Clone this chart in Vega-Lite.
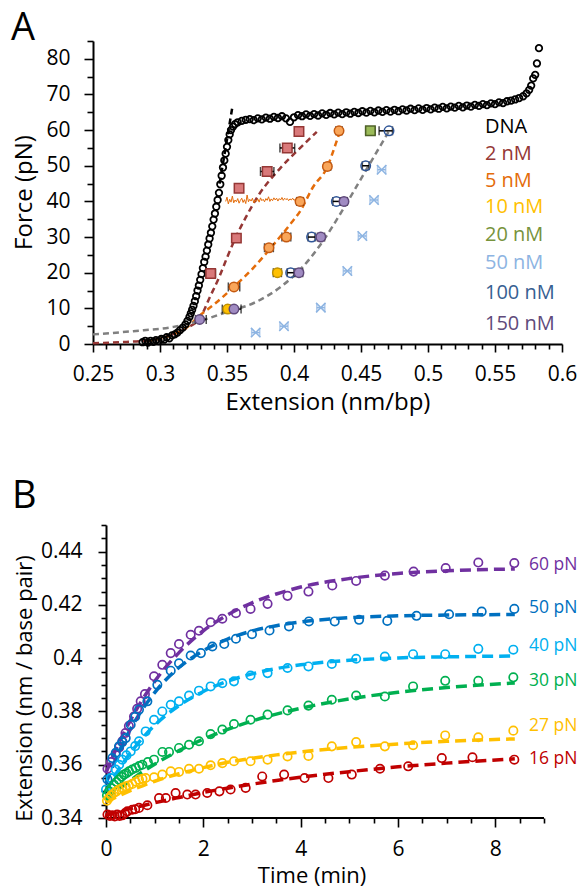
{
"$schema":"https://vega.github.io/schema/vega-lite/v6.json",
"padding":{"left":11,"top":10,"right":0,"bottom":0},
"spacing":62,
"config":{
 "view":{"stroke":null},
 "font":"Open Sans",
 "axis":{"domainColor":"black","domainWidth":2,"tickColor":"black","tickWidth":1.6,"labelColor":"black","labelFont":"Open Sans","labelFontSize":21,"titleFont":"Open Sans","titleFontSize":22,"titleFontWeight":"normal","titleColor":"black","grid":false,"labelOverlap":false,"labelBound":false,"labelFlush":false},
 "title":{"font":"Open Sans","fontSize":38,"fontWeight":"normal","anchor":"start","frame":"bounds","color":"black"}
},
"datasets":{
 "dna":[
  {"x":0.287,"F":0.5},{"x":0.289,"F":0.9},{"x":0.291,"F":0.4},{"x":0.293,"F":0.9},{"x":0.295,"F":0.6},{"x":0.297,"F":1.1},{"x":0.299,"F":0.8},{"x":0.301,"F":1.4},{"x":0.303,"F":1.2},{"x":0.305,"F":1.9},{"x":0.307,"F":1.6},{"x":0.309,"F":2.4},{"x":0.311,"F":2.7},{"x":0.313,"F":3.2},{"x":0.315,"F":3.9},{"x":0.317,"F":4.6},{"x":0.319,"F":5.5},{"x":0.3205,"F":6.5},{"x":0.322,"F":7.6},{"x":0.323,"F":8.6},{"x":0.324,"F":9.6},{"x":0.325,"F":10.7},{"x":0.326,"F":12.0},{"x":0.327,"F":13.4},{"x":0.328,"F":15.0},{"x":0.329,"F":16.4},{"x":0.330,"F":18.0},{"x":0.331,"F":19.6},{"x":0.332,"F":21.3},{"x":0.333,"F":23.0},{"x":0.334,"F":24.5},{"x":0.335,"F":26.2},{"x":0.336,"F":27.9},{"x":0.337,"F":29.6},{"x":0.338,"F":31.2},{"x":0.339,"F":33.0},{"x":0.340,"F":34.9},{"x":0.341,"F":36.6},{"x":0.342,"F":38.5},{"x":0.343,"F":40.4},{"x":0.344,"F":42.4},{"x":0.345,"F":44.8},{"x":0.346,"F":47.2},{"x":0.347,"F":49.5},{"x":0.348,"F":51.5},{"x":0.349,"F":53.4},{"x":0.350,"F":55.3},{"x":0.351,"F":57.2},{"x":0.352,"F":58.8},{"x":0.353,"F":60.0},{"x":0.3545,"F":61.0},{"x":0.356,"F":61.7},{"x":0.358,"F":62.2},
  {"x":0.361,"F":62.6},{"x":0.364,"F":62.9},{"x":0.367,"F":63.1},{"x":0.370,"F":62.8},{"x":0.373,"F":63.3},{"x":0.376,"F":63.0},{"x":0.379,"F":63.5},{"x":0.382,"F":63.2},{"x":0.385,"F":63.7},{"x":0.388,"F":63.4},{"x":0.391,"F":63.9},{"x":0.394,"F":63.3},{"x":0.397,"F":62.3},{"x":0.400,"F":63.6},{"x":0.403,"F":64.2},{"x":0.406,"F":63.9},{"x":0.409,"F":64.4},{"x":0.412,"F":64.0},{"x":0.415,"F":64.5},{"x":0.418,"F":64.1},{"x":0.421,"F":64.7},{"x":0.424,"F":64.3},{"x":0.427,"F":64.8},{"x":0.430,"F":64.4},{"x":0.433,"F":64.9},{"x":0.436,"F":64.5},{"x":0.439,"F":65.0},{"x":0.442,"F":64.6},{"x":0.445,"F":65.1},{"x":0.448,"F":64.8},{"x":0.451,"F":65.3},{"x":0.454,"F":64.9},{"x":0.457,"F":65.4},{"x":0.460,"F":65.0},{"x":0.463,"F":65.5},{"x":0.466,"F":65.1},{"x":0.469,"F":65.6},{"x":0.472,"F":65.2},{"x":0.475,"F":65.7},{"x":0.478,"F":65.3},{"x":0.481,"F":65.8},{"x":0.484,"F":65.5},{"x":0.487,"F":66.0},{"x":0.490,"F":65.6},{"x":0.493,"F":66.1},{"x":0.496,"F":65.7},{"x":0.499,"F":66.2},{"x":0.502,"F":65.8},{"x":0.505,"F":66.3},{"x":0.508,"F":66.0},{"x":0.511,"F":66.5},{"x":0.514,"F":66.1},{"x":0.517,"F":66.6},{"x":0.520,"F":66.3},{"x":0.523,"F":66.8},{"x":0.526,"F":66.4},{"x":0.529,"F":66.9},{"x":0.532,"F":66.6},{"x":0.535,"F":67.1},{"x":0.538,"F":66.8},{"x":0.541,"F":67.3},{"x":0.544,"F":67.0},{"x":0.547,"F":67.5},{"x":0.550,"F":67.3},{"x":0.553,"F":67.8},{"x":0.556,"F":67.6},{"x":0.559,"F":68.1},{"x":0.562,"F":68.3},{"x":0.565,"F":68.6},{"x":0.568,"F":69.0},{"x":0.571,"F":69.5},{"x":0.5735,"F":70.3},{"x":0.5755,"F":71.3},{"x":0.577,"F":72.5},{"x":0.5785,"F":74.5},{"x":0.580,"F":75.5},{"x":0.5813,"F":78.7},{"x":0.5828,"F":83.0}
 ],
 "trace":[
  {"x":0.349,"F":40.0},{"x":0.350,"F":41.2},{"x":0.351,"F":39.3},{"x":0.352,"F":40.6},{"x":0.353,"F":39.8},{"x":0.354,"F":41.5},{"x":0.355,"F":39.6},{"x":0.356,"F":40.4},{"x":0.357,"F":39.9},{"x":0.358,"F":40.8},{"x":0.359,"F":39.5},{"x":0.360,"F":40.3},{"x":0.361,"F":40.9},{"x":0.362,"F":39.7},{"x":0.363,"F":40.5},{"x":0.364,"F":39.4},{"x":0.365,"F":41.8},{"x":0.366,"F":39.9},{"x":0.367,"F":40.6},{"x":0.368,"F":40.1},{"x":0.369,"F":40.9},{"x":0.370,"F":39.6},{"x":0.371,"F":40.4},{"x":0.372,"F":40.0},{"x":0.373,"F":40.7},{"x":0.374,"F":39.8},{"x":0.375,"F":41.0},{"x":0.376,"F":40.2},{"x":0.377,"F":40.6},{"x":0.378,"F":39.9},{"x":0.379,"F":40.8},{"x":0.380,"F":40.3},{"x":0.381,"F":41.3},{"x":0.382,"F":40.0},{"x":0.383,"F":40.7},{"x":0.384,"F":40.2},{"x":0.385,"F":41.0},{"x":0.386,"F":40.4},{"x":0.387,"F":40.9},{"x":0.388,"F":40.1},{"x":0.389,"F":40.8},{"x":0.390,"F":40.4},{"x":0.391,"F":41.1},{"x":0.392,"F":40.3},{"x":0.393,"F":40.9},{"x":0.394,"F":40.5},{"x":0.395,"F":40.8},{"x":0.396,"F":40.2},{"x":0.397,"F":40.7},{"x":0.398,"F":40.4},{"x":0.399,"F":40.9},{"x":0.400,"F":40.3},{"x":0.401,"F":40.6},{"x":0.402,"F":40.2},{"x":0.403,"F":40.5}
 ],
 "fitA":[
  {"s":"2nM","x":0.25,"F":0.2},{"s":"2nM","x":0.27,"F":0.5},{"s":"2nM","x":0.29,"F":1.0},{"s":"2nM","x":0.30,"F":1.6},{"s":"2nM","x":0.31,"F":2.8},{"s":"2nM","x":0.32,"F":4.5},{"s":"2nM","x":0.33,"F":7.4},{"s":"2nM","x":0.337,"F":13},{"s":"2nM","x":0.344,"F":18.6},{"s":"2nM","x":0.35,"F":24.2},{"s":"2nM","x":0.3565,"F":29.9},{"s":"2nM","x":0.364,"F":35.5},{"s":"2nM","x":0.374,"F":42},{"s":"2nM","x":0.389,"F":49},{"s":"2nM","x":0.406,"F":55.5},{"s":"2nM","x":0.417,"F":59.5},
  {"s":"5nM","x":0.29,"F":0.8},{"s":"5nM","x":0.30,"F":1.5},{"s":"5nM","x":0.31,"F":2.7},{"s":"5nM","x":0.32,"F":4.6},{"s":"5nM","x":0.329,"F":7.8},{"s":"5nM","x":0.34,"F":11},{"s":"5nM","x":0.355,"F":16},{"s":"5nM","x":0.37,"F":21.5},{"s":"5nM","x":0.385,"F":28},{"s":"5nM","x":0.397,"F":33.5},{"s":"5nM","x":0.405,"F":37.5},{"s":"5nM","x":0.414,"F":43.9},{"s":"5nM","x":0.4249,"F":49.7},{"s":"5nM","x":0.431,"F":56},{"s":"5nM","x":0.4345,"F":60},
  {"s":"gray","x":0.25,"F":2.7},{"s":"gray","x":0.28,"F":3.6},{"s":"gray","x":0.31,"F":4.8},{"s":"gray","x":0.33,"F":6.5},{"s":"gray","x":0.35,"F":9},{"s":"gray","x":0.37,"F":11.5},{"s":"gray","x":0.39,"F":16},{"s":"gray","x":0.405,"F":21},{"s":"gray","x":0.42,"F":28},{"s":"gray","x":0.436,"F":37.4},{"s":"gray","x":0.4535,"F":48.6},{"s":"gray","x":0.471,"F":59.8},
  {"s":"wlc","x":0.3445,"F":45},{"s":"wlc","x":0.3538,"F":66}
 ],
 "mk":[
  {"s":"2 nM","x":0.3378,"F":19.8,"lo":0.3342,"hi":0.3414},
  {"s":"2 nM","x":0.357,"F":29.7,"lo":0.3545,"hi":0.3595},
  {"s":"2 nM","x":0.359,"F":43.7,"lo":0.357,"hi":0.361},
  {"s":"2 nM","x":0.380,"F":48.4,"lo":0.375,"hi":0.385},
  {"s":"2 nM","x":0.395,"F":55.0,"lo":0.3895,"hi":0.4005},
  {"s":"2 nM","x":0.4037,"F":59.6,"lo":0.4015,"hi":0.406},
  {"s":"5 nM","x":0.3552,"F":16.0,"lo":0.351,"hi":0.3595},
  {"s":"5 nM","x":0.3813,"F":27.0,"lo":0.378,"hi":0.3846},
  {"s":"5 nM","x":0.3943,"F":30.0,"lo":0.391,"hi":0.3976},
  {"s":"5 nM","x":0.4045,"F":40.0,"lo":0.402,"hi":0.407},
  {"s":"5 nM","x":0.4249,"F":49.8,"lo":0.4225,"hi":0.4273},
  {"s":"5 nM","x":0.4336,"F":59.8,"lo":0.4312,"hi":0.436},
  {"s":"10 nM","x":0.3505,"F":9.8,"lo":0.3465,"hi":0.3545},
  {"s":"10 nM","x":0.3876,"F":20.0,"lo":0.3846,"hi":0.3906},
  {"s":"20 nM","x":0.457,"F":59.8,"lo":0.4535,"hi":0.4605},
  {"s":"50 nM","x":0.3714,"F":3.2,"lo":0.3684,"hi":0.3744},
  {"s":"50 nM","x":0.3925,"F":5.0,"lo":0.3895,"hi":0.3955},
  {"s":"50 nM","x":0.420,"F":10.2,"lo":0.417,"hi":0.423},
  {"s":"50 nM","x":0.4398,"F":20.5,"lo":0.4368,"hi":0.4428},
  {"s":"50 nM","x":0.451,"F":30.3,"lo":0.448,"hi":0.454},
  {"s":"50 nM","x":0.4597,"F":40.4,"lo":0.4567,"hi":0.4627},
  {"s":"50 nM","x":0.4654,"F":48.9,"lo":0.4624,"hi":0.4684},
  {"s":"100 nM","x":0.3975,"F":20.0,"lo":0.395,"hi":0.400},
  {"s":"100 nM","x":0.4131,"F":30.0,"lo":0.4105,"hi":0.4157},
  {"s":"100 nM","x":0.4316,"F":40.0,"lo":0.429,"hi":0.4342},
  {"s":"100 nM","x":0.4535,"F":50.0,"lo":0.451,"hi":0.456},
  {"s":"100 nM","x":0.4709,"F":59.8,"lo":0.4635,"hi":0.4735},
  {"s":"150 nM","x":0.3296,"F":6.9,"lo":0.3265,"hi":0.3345},
  {"s":"150 nM","x":0.3552,"F":9.8,"lo":0.3525,"hi":0.3605},
  {"s":"150 nM","x":0.4037,"F":20.0,"lo":0.401,"hi":0.4065},
  {"s":"150 nM","x":0.420,"F":30.0,"lo":0.4175,"hi":0.4228},
  {"s":"150 nM","x":0.4373,"F":40.0,"lo":0.435,"hi":0.4398}
 ],
 "labA":[
  {"s":"DNA","x":0.5425,"F":60.8},{"s":"2 nM","x":0.5425,"F":53.3},{"s":"5 nM","x":0.5425,"F":45.8},{"s":"10 nM","x":0.5425,"F":38.4},{"s":"20 nM","x":0.5425,"F":30.5},{"s":"50 nM","x":0.5425,"F":22.6},{"s":"100 nM","x":0.5425,"F":14.4},{"s":"150 nM","x":0.5425,"F":5.6}
 ],
 "bpts":[
  {"s":"60 pN","t":0.03,"e":0.3585},{"s":"60 pN","t":0.1,"e":0.3610},{"s":"60 pN","t":0.2,"e":0.3638},{"s":"60 pN","t":0.27,"e":0.3665},{"s":"60 pN","t":0.335,"e":0.3688},{"s":"60 pN","t":0.40,"e":0.3719},{"s":"60 pN","t":0.47,"e":0.3745},{"s":"60 pN","t":0.575,"e":0.3781},{"s":"60 pN","t":0.64,"e":0.3810},{"s":"60 pN","t":0.713,"e":0.3838},{"s":"60 pN","t":0.80,"e":0.3865},{"s":"60 pN","t":0.987,"e":0.3932},{"s":"60 pN","t":1.157,"e":0.3975},{"s":"60 pN","t":1.33,"e":0.4019},{"s":"60 pN","t":1.50,"e":0.4053},{"s":"60 pN","t":1.74,"e":0.4088},{"s":"60 pN","t":1.91,"e":0.4103},{"s":"60 pN","t":2.15,"e":0.4135},{"s":"60 pN","t":2.39,"e":0.4148},{"s":"60 pN","t":2.67,"e":0.4169},{"s":"60 pN","t":2.97,"e":0.4185},{"s":"60 pN","t":3.32,"e":0.4204},{"s":"60 pN","t":3.73,"e":0.4234},{"s":"60 pN","t":4.16,"e":0.4250},{"s":"60 pN","t":4.65,"e":0.4273},{"s":"60 pN","t":5.14,"e":0.4290},{"s":"60 pN","t":5.73,"e":0.4310},{"s":"60 pN","t":6.32,"e":0.4325},{"s":"60 pN","t":6.98,"e":0.4338},{"s":"60 pN","t":7.65,"e":0.4359},{"s":"60 pN","t":8.39,"e":0.4357},
  {"s":"50 pN","t":0.03,"e":0.3545},{"s":"50 pN","t":0.13,"e":0.3625},{"s":"50 pN","t":0.2,"e":0.3645},{"s":"50 pN","t":0.267,"e":0.3669},{"s":"50 pN","t":0.335,"e":0.3685},{"s":"50 pN","t":0.405,"e":0.3700},{"s":"50 pN","t":0.507,"e":0.3750},{"s":"50 pN","t":0.6,"e":0.3780},{"s":"50 pN","t":0.678,"e":0.3807},{"s":"50 pN","t":0.85,"e":0.3838},{"s":"50 pN","t":1.055,"e":0.3900},{"s":"50 pN","t":1.33,"e":0.3953},{"s":"50 pN","t":1.50,"e":0.3981},{"s":"50 pN","t":1.74,"e":0.4010},{"s":"50 pN","t":1.95,"e":0.4019},{"s":"50 pN","t":2.185,"e":0.4044},{"s":"50 pN","t":2.43,"e":0.4053},{"s":"50 pN","t":2.67,"e":0.4073},{"s":"50 pN","t":3.0,"e":0.4090},{"s":"50 pN","t":3.36,"e":0.4104},{"s":"50 pN","t":3.76,"e":0.4119},{"s":"50 pN","t":4.17,"e":0.4138},{"s":"50 pN","t":4.7,"e":0.4138},{"s":"50 pN","t":5.2,"e":0.4144},{"s":"50 pN","t":5.78,"e":0.4140},{"s":"50 pN","t":6.38,"e":0.4159},{"s":"50 pN","t":7.05,"e":0.4165},{"s":"50 pN","t":7.72,"e":0.4175},{"s":"50 pN","t":8.39,"e":0.4185},
  {"s":"40 pN","t":0.0,"e":0.3507},{"s":"40 pN","t":0.097,"e":0.3550},{"s":"40 pN","t":0.2,"e":0.3582},{"s":"40 pN","t":0.27,"e":0.3600},{"s":"40 pN","t":0.335,"e":0.3619},{"s":"40 pN","t":0.42,"e":0.3635},{"s":"40 pN","t":0.507,"e":0.3650},{"s":"40 pN","t":0.6,"e":0.3670},{"s":"40 pN","t":0.678,"e":0.3688},{"s":"40 pN","t":0.815,"e":0.3725},{"s":"40 pN","t":0.987,"e":0.3769},{"s":"40 pN","t":1.157,"e":0.3800},{"s":"40 pN","t":1.33,"e":0.3825},{"s":"40 pN","t":1.50,"e":0.3838},{"s":"40 pN","t":1.706,"e":0.3860},{"s":"40 pN","t":1.91,"e":0.3878},{"s":"40 pN","t":2.15,"e":0.3894},{"s":"40 pN","t":2.39,"e":0.3906},{"s":"40 pN","t":2.63,"e":0.3913},{"s":"40 pN","t":2.97,"e":0.3935},{"s":"40 pN","t":3.32,"e":0.3944},{"s":"40 pN","t":3.73,"e":0.3963},{"s":"40 pN","t":4.16,"e":0.3969},{"s":"40 pN","t":4.64,"e":0.3978},{"s":"40 pN","t":5.14,"e":0.3998},{"s":"40 pN","t":5.73,"e":0.4006},{"s":"40 pN","t":6.31,"e":0.4015},{"s":"40 pN","t":6.97,"e":0.4015},{"s":"40 pN","t":7.65,"e":0.4035},{"s":"40 pN","t":8.37,"e":0.4032},
  {"s":"30 pN","t":0.02,"e":0.3485},{"s":"30 pN","t":0.06,"e":0.3500},{"s":"30 pN","t":0.11,"e":0.3512},{"s":"30 pN","t":0.164,"e":0.3525},{"s":"30 pN","t":0.215,"e":0.3535},{"s":"30 pN","t":0.267,"e":0.3544},{"s":"30 pN","t":0.32,"e":0.3555},{"s":"30 pN","t":0.37,"e":0.3563},{"s":"30 pN","t":0.42,"e":0.3568},{"s":"30 pN","t":0.473,"e":0.3575},{"s":"30 pN","t":0.54,"e":0.3582},{"s":"30 pN","t":0.61,"e":0.3588},{"s":"30 pN","t":0.68,"e":0.3595},{"s":"30 pN","t":0.746,"e":0.3600},{"s":"30 pN","t":0.86,"e":0.3610},{"s":"30 pN","t":0.987,"e":0.3619},{"s":"30 pN","t":1.16,"e":0.3648},{"s":"30 pN","t":1.295,"e":0.3648},{"s":"30 pN","t":1.5,"e":0.3663},{"s":"30 pN","t":1.706,"e":0.3675},{"s":"30 pN","t":1.91,"e":0.3688},{"s":"30 pN","t":2.15,"e":0.3715},{"s":"30 pN","t":2.39,"e":0.3732},{"s":"30 pN","t":2.63,"e":0.3753},{"s":"30 pN","t":2.97,"e":0.3769},{"s":"30 pN","t":3.32,"e":0.3788},{"s":"30 pN","t":3.73,"e":0.3804},{"s":"30 pN","t":4.16,"e":0.3822},{"s":"30 pN","t":4.64,"e":0.3844},{"s":"30 pN","t":5.14,"e":0.3860},{"s":"30 pN","t":5.73,"e":0.3856},{"s":"30 pN","t":6.31,"e":0.3894},{"s":"30 pN","t":6.97,"e":0.3915},{"s":"30 pN","t":7.65,"e":0.3915},{"s":"30 pN","t":8.37,"e":0.3928},
  {"s":"27 pN","t":0.02,"e":0.3465},{"s":"27 pN","t":0.06,"e":0.3475},{"s":"27 pN","t":0.11,"e":0.3485},{"s":"27 pN","t":0.164,"e":0.3494},{"s":"27 pN","t":0.215,"e":0.3500},{"s":"27 pN","t":0.267,"e":0.3507},{"s":"27 pN","t":0.335,"e":0.3513},{"s":"27 pN","t":0.405,"e":0.3519},{"s":"27 pN","t":0.47,"e":0.3522},{"s":"27 pN","t":0.54,"e":0.3528},{"s":"27 pN","t":0.61,"e":0.3536},{"s":"27 pN","t":0.678,"e":0.3544},{"s":"27 pN","t":0.75,"e":0.3547},{"s":"27 pN","t":0.815,"e":0.3550},{"s":"27 pN","t":0.987,"e":0.3553},{"s":"27 pN","t":1.157,"e":0.3563},{"s":"27 pN","t":1.33,"e":0.3575},{"s":"27 pN","t":1.5,"e":0.3573},{"s":"27 pN","t":1.706,"e":0.3585},{"s":"27 pN","t":1.91,"e":0.3585},{"s":"27 pN","t":2.15,"e":0.3598},{"s":"27 pN","t":2.39,"e":0.3606},{"s":"27 pN","t":2.63,"e":0.3613},{"s":"27 pN","t":2.97,"e":0.3613},{"s":"27 pN","t":3.32,"e":0.3619},{"s":"27 pN","t":3.73,"e":0.3631},{"s":"27 pN","t":4.16,"e":0.3633},{"s":"27 pN","t":4.64,"e":0.3669},{"s":"27 pN","t":5.14,"e":0.3685},{"s":"27 pN","t":5.73,"e":0.3669},{"s":"27 pN","t":6.31,"e":0.3673},{"s":"27 pN","t":6.97,"e":0.3710},{"s":"27 pN","t":7.65,"e":0.3703},{"s":"27 pN","t":8.37,"e":0.3728},
  {"s":"16 pN","t":0.03,"e":0.3413},{"s":"16 pN","t":0.08,"e":0.3408},{"s":"16 pN","t":0.13,"e":0.3410},{"s":"16 pN","t":0.18,"e":0.3406},{"s":"16 pN","t":0.23,"e":0.3413},{"s":"16 pN","t":0.28,"e":0.3408},{"s":"16 pN","t":0.335,"e":0.3410},{"s":"16 pN","t":0.39,"e":0.3418},{"s":"16 pN","t":0.44,"e":0.3425},{"s":"16 pN","t":0.54,"e":0.3431},{"s":"16 pN","t":0.6,"e":0.3433},{"s":"16 pN","t":0.678,"e":0.3438},{"s":"16 pN","t":0.85,"e":0.3448},{"s":"16 pN","t":1.09,"e":0.3475},{"s":"16 pN","t":1.23,"e":0.3475},{"s":"16 pN","t":1.43,"e":0.3494},{"s":"16 pN","t":1.67,"e":0.3488},{"s":"16 pN","t":1.84,"e":0.3488},{"s":"16 pN","t":2.08,"e":0.3494},{"s":"16 pN","t":2.33,"e":0.3500},{"s":"16 pN","t":2.56,"e":0.3507},{"s":"16 pN","t":2.87,"e":0.3513},{"s":"16 pN","t":3.21,"e":0.3556},{"s":"16 pN","t":3.66,"e":0.3563},{"s":"16 pN","t":4.08,"e":0.3550},{"s":"16 pN","t":4.57,"e":0.3550},{"s":"16 pN","t":5.05,"e":0.3563},{"s":"16 pN","t":5.63,"e":0.3585},{"s":"16 pN","t":6.21,"e":0.3594},{"s":"16 pN","t":6.9,"e":0.3625},{"s":"16 pN","t":7.53,"e":0.3628},{"s":"16 pN","t":8.39,"e":0.3619}
 ],
 "bfit":[
  {"s":"60 pN","t":0,"e":0.357},{"s":"60 pN","t":0.25,"e":0.3676},{"s":"60 pN","t":0.5,"e":0.3766},{"s":"60 pN","t":0.75,"e":0.3845},{"s":"60 pN","t":1,"e":0.3913},{"s":"60 pN","t":1.5,"e":0.4021},{"s":"60 pN","t":2,"e":0.4103},{"s":"60 pN","t":2.5,"e":0.4163},{"s":"60 pN","t":3,"e":0.4208},{"s":"60 pN","t":3.5,"e":0.4241},{"s":"60 pN","t":4,"e":0.4267},{"s":"60 pN","t":5,"e":0.4299},{"s":"60 pN","t":6,"e":0.4318},{"s":"60 pN","t":7,"e":0.4328},{"s":"60 pN","t":8.4,"e":0.4335},
  {"s":"50 pN","t":0,"e":0.353},{"s":"50 pN","t":0.25,"e":0.3641},{"s":"50 pN","t":0.5,"e":0.3733},{"s":"50 pN","t":0.75,"e":0.3808},{"s":"50 pN","t":1,"e":0.3871},{"s":"50 pN","t":1.5,"e":0.3965},{"s":"50 pN","t":2,"e":0.4028},{"s":"50 pN","t":2.5,"e":0.4072},{"s":"50 pN","t":3,"e":0.4102},{"s":"50 pN","t":3.5,"e":0.4122},{"s":"50 pN","t":4,"e":0.4136},{"s":"50 pN","t":5,"e":0.4152},{"s":"50 pN","t":6,"e":0.4159},{"s":"50 pN","t":7,"e":0.4162},{"s":"50 pN","t":8.4,"e":0.4164},
  {"s":"40 pN","t":0,"e":0.350},{"s":"40 pN","t":0.25,"e":0.3579},{"s":"40 pN","t":0.5,"e":0.3644},{"s":"40 pN","t":0.75,"e":0.3700},{"s":"40 pN","t":1,"e":0.3748},{"s":"40 pN","t":1.5,"e":0.3822},{"s":"40 pN","t":2,"e":0.3875},{"s":"40 pN","t":2.5,"e":0.3914},{"s":"40 pN","t":3,"e":0.3941},{"s":"40 pN","t":3.5,"e":0.3961},{"s":"40 pN","t":4,"e":0.3975},{"s":"40 pN","t":5,"e":0.3992},{"s":"40 pN","t":6,"e":0.4001},{"s":"40 pN","t":7,"e":0.4005},{"s":"40 pN","t":8.4,"e":0.4008},
  {"s":"30 pN","t":0,"e":0.347},{"s":"30 pN","t":0.25,"e":0.3507},{"s":"30 pN","t":0.5,"e":0.3541},{"s":"30 pN","t":0.75,"e":0.3573},{"s":"30 pN","t":1,"e":0.3602},{"s":"30 pN","t":1.5,"e":0.3653},{"s":"30 pN","t":2,"e":0.3696},{"s":"30 pN","t":2.5,"e":0.3733},{"s":"30 pN","t":3,"e":0.3764},{"s":"30 pN","t":3.5,"e":0.3790},{"s":"30 pN","t":4,"e":0.3812},{"s":"30 pN","t":5,"e":0.3847},{"s":"30 pN","t":6,"e":0.3872},{"s":"30 pN","t":7,"e":0.3890},{"s":"30 pN","t":8.4,"e":0.3907},
  {"s":"27 pN","t":0,"e":0.346},{"s":"27 pN","t":0.25,"e":0.3482},{"s":"27 pN","t":0.5,"e":0.3503},{"s":"27 pN","t":0.75,"e":0.3521},{"s":"27 pN","t":1,"e":0.3538},{"s":"27 pN","t":1.5,"e":0.3566},{"s":"27 pN","t":2,"e":0.3589},{"s":"27 pN","t":2.5,"e":0.3609},{"s":"27 pN","t":3,"e":0.3624},{"s":"27 pN","t":3.5,"e":0.3637},{"s":"27 pN","t":4,"e":0.3648},{"s":"27 pN","t":5,"e":0.3665},{"s":"27 pN","t":6,"e":0.3678},{"s":"27 pN","t":7,"e":0.3688},{"s":"27 pN","t":8.4,"e":0.3697},
  {"s":"16 pN","t":0,"e":0.341},{"s":"16 pN","t":0.25,"e":0.3423},{"s":"16 pN","t":0.5,"e":0.3435},{"s":"16 pN","t":0.75,"e":0.3446},{"s":"16 pN","t":1,"e":0.3457},{"s":"16 pN","t":1.5,"e":0.3477},{"s":"16 pN","t":2,"e":0.3496},{"s":"16 pN","t":2.5,"e":0.3512},{"s":"16 pN","t":3,"e":0.3527},{"s":"16 pN","t":3.5,"e":0.3541},{"s":"16 pN","t":4,"e":0.3553},{"s":"16 pN","t":5,"e":0.3574},{"s":"16 pN","t":6,"e":0.3592},{"s":"16 pN","t":7,"e":0.3606},{"s":"16 pN","t":8.4,"e":0.3622}
 ],
 "blab":[
  {"s":"60 pN","t":8.69,"e":0.4350},{"s":"50 pN","t":8.69,"e":0.4188},{"s":"40 pN","t":8.69,"e":0.4044},{"s":"30 pN","t":8.69,"e":0.3913},{"s":"27 pN","t":8.69,"e":0.3744},{"s":"16 pN","t":8.69,"e":0.3620}
 ],
 "bbase":[{"a":0,"b":9,"e":0.34}]
},
"vconcat":[
 {
  "width":469,"height":303,
  "title":{"text":"A","baseline":"alphabetic","offset":-38.2,"dx":-1},
  "resolve":{"axis":{"x":"independent","y":"independent"},"scale":{"color":"independent","fill":"independent","stroke":"independent","shape":"independent","strokeWidth":"independent"}},
  "layer":[
   {
    "data":{"name":"fitA"},
    "mark":{"type":"line","strokeWidth":2.5,"strokeDash":[6,4],"interpolate":"monotone"},
    "encoding":{
     "x":{"field":"x","type":"quantitative","scale":{"domain":[0.25,0.6],"nice":false,"zero":false},
      "axis":{"orient":"bottom","title":"Extension (nm/bp)","titleFontSize":24,"values":[0.25,0.3,0.35,0.4,0.45,0.5,0.55,0.6],"format":".2~f","tickSize":8,"labelPadding":11,"titleY":46.5,"titleBaseline":"top","labelOverlap":false,"labelFlush":false,"labelBound":false}},
     "y":{"field":"F","type":"quantitative","scale":{"domain":[0,85],"nice":false,"zero":false},
      "axis":{"orient":"left","title":"Force (pN)","titleFontSize":24,"values":[0,10,20,30,40,50,60,70,80],"tickSize":9,"labelPadding":14,"labelOverlap":false,"labelFlush":false,"labelBound":false,"titleX":-62,"titleY":151,"titleBaseline":"alphabetic","titleAngle":-90}},
     "color":{"field":"s","type":"nominal","scale":{"domain":["2nM","5nM","gray","wlc"],"range":["#953735","#E46C0A","#808080","#000000"]},"legend":null}
    }
   },
   {
    "data":{"name":"trace"},
    "mark":{"type":"line","strokeWidth":1,"color":"#E46C0A"},
    "encoding":{
     "x":{"field":"x","type":"quantitative","axis":{"orient":"bottom","title":null,"labels":false,"domain":false,"tickSize":5,"values":[0.26,0.27,0.28,0.29,0.31,0.32,0.33,0.34,0.36,0.37,0.38,0.39,0.41,0.42,0.43,0.44,0.46,0.47,0.48,0.49,0.51,0.52,0.53,0.54,0.56,0.57,0.58,0.59]}},
     "y":{"field":"F","type":"quantitative","axis":{"orient":"left","title":null,"labels":false,"domain":false,"tickSize":6,"values":[5,15,25,35,45,55,65,75,85]}}
    }
   },
   {
    "data":{"name":"dna"},
    "mark":{"type":"point","shape":"circle","filled":false,"stroke":"black","strokeWidth":1.8,"size":42,"opacity":1},
    "encoding":{"x":{"field":"x","type":"quantitative","axis":null},"y":{"field":"F","type":"quantitative","axis":null}}
   },
   {
    "data":{"name":"mk"},
    "mark":{"type":"rule","strokeWidth":1.5},
    "encoding":{"x":{"field":"lo","type":"quantitative","axis":null},"x2":{"field":"hi"},"y":{"field":"F","type":"quantitative","axis":null},
     "color":{"field":"s","type":"nominal","scale":{"domain":["2 nM","5 nM","10 nM","20 nM","50 nM","100 nM","150 nM"],"range":["#000000","#000000","#000000","#000000","#8DB4E2","#000000","#000000"]},"legend":null}}
   },
   {
    "data":{"name":"mk"},
    "transform":[{"fold":["lo","hi"],"as":["k","v"]}],
    "mark":{"type":"tick","orient":"vertical","size":9,"thickness":1.5},
    "encoding":{"x":{"field":"v","type":"quantitative","axis":null},"y":{"field":"F","type":"quantitative","axis":null},
     "color":{"field":"s","type":"nominal","scale":{"domain":["2 nM","5 nM","10 nM","20 nM","50 nM","100 nM","150 nM"],"range":["#000000","#000000","#000000","#000000","#8DB4E2","#000000","#000000"]},"legend":null}}
   },
   {
    "data":{"name":"mk"},
    "mark":{"type":"point","filled":true,"size":90,"opacity":1},
    "encoding":{
     "x":{"field":"x","type":"quantitative","axis":null},"y":{"field":"F","type":"quantitative","axis":null},
     "shape":{"field":"s","type":"nominal","scale":{"domain":["2 nM","5 nM","10 nM","20 nM","50 nM","100 nM","150 nM"],"range":["square","circle","circle","square","M-1,-1L1,1M1,-1L-1,1","circle","circle"]},"legend":null},
     "fill":{"field":"s","type":"nominal","scale":{"domain":["2 nM","5 nM","10 nM","20 nM","50 nM","100 nM","150 nM"],"range":["#D9797A","#F9A65A","#FFC000","#9BBB59","transparent","transparent","#A08BC2"]},"legend":null},
     "stroke":{"field":"s","type":"nominal","scale":{"domain":["2 nM","5 nM","10 nM","20 nM","50 nM","100 nM","150 nM"],"range":["#953735","#C55A11","#BF9000","#4F6228","#8DB4E2","#2F5597","#5F497A"]},"legend":null},
     "strokeWidth":{"field":"s","type":"nominal","scale":{"domain":["2 nM","5 nM","10 nM","20 nM","50 nM","100 nM","150 nM"],"range":[1.5,1.5,1.2,1.5,1.6,3,1.5]},"legend":null}
    }
   },
   {
    "data":{"name":"labA"},
    "mark":{"type":"text","align":"left","baseline":"middle","fontSize":20,"font":"Open Sans"},
    "encoding":{
     "x":{"field":"x","type":"quantitative","axis":null},"y":{"field":"F","type":"quantitative","axis":null},
     "text":{"field":"s"},
     "color":{"field":"s","type":"nominal","scale":{"domain":["DNA","2 nM","5 nM","10 nM","20 nM","50 nM","100 nM","150 nM"],"range":["#000000","#953735","#E46C0A","#FFC000","#77933C","#8DB4E2","#376092","#604A7B"]},"legend":null}
    }
   }
  ]
 },
 {
  "width":451,"height":293,
  "title":{"text":"B","baseline":"alphabetic","offset":-21.7,"dx":-1},
  "resolve":{"axis":{"x":"independent","y":"independent"}},
  "layer":[
   {
    "data":{"name":"bfit"},
    "mark":{"type":"line","strokeWidth":3.5,"strokeDash":[11,6],"interpolate":"monotone"},
    "encoding":{
     "x":{"field":"t","type":"quantitative","scale":{"domain":[-0.2671,9],"nice":false,"zero":false},
      "axis":{"orient":"bottom","title":"Time (min)","domain":false,"values":[0,2,4,6,8],"tickSize":9,"labelPadding":11,"titleX":218.6,"titleY":47,"titleBaseline":"top","labelOverlap":false,"labelFlush":false,"labelBound":false}},
     "y":{"field":"e","type":"quantitative","scale":{"domain":[0.34,0.45],"nice":false,"zero":false},
      "axis":{"orient":"left","title":"Extension (nm / base pair)","offset":-13,"values":[0.34,0.36,0.38,0.4,0.42,0.44],"format":".2~f","tickSize":8,"labelPadding":16,"labelOverlap":false,"labelFlush":false,"labelBound":false,"titleX":-75,"titleY":163,"titleBaseline":"alphabetic","titleAngle":-90}},
     "color":{"field":"s","type":"nominal","scale":{"domain":["60 pN","50 pN","40 pN","30 pN","27 pN","16 pN"],"range":["#7030A0","#0070C0","#00B0F0","#00B050","#FFC000","#C00000"]},"legend":null}
    }
   },
   {
    "data":{"name":"bbase"},
    "mark":{"type":"rule","strokeWidth":2,"color":"black"},
    "encoding":{"x":{"field":"a","type":"quantitative","axis":null},"x2":{"field":"b"},"y":{"field":"e","type":"quantitative","axis":null}}
   },
   {
    "data":{"name":"bpts"},
    "mark":{"type":"point","shape":"circle","filled":false,"strokeWidth":1.7,"size":70,"opacity":1},
    "encoding":{
     "x":{"field":"t","type":"quantitative","axis":{"orient":"bottom","title":null,"labels":false,"domain":false,"tickSize":5,"values":[0.5,1,1.5,2.5,3,3.5,4.5,5,5.5,6.5,7,7.5,8.5,9]}},
     "y":{"field":"e","type":"quantitative","axis":{"orient":"left","title":null,"labels":false,"domain":false,"offset":-13,"tickSize":5,"values":[0.345,0.35,0.355,0.365,0.37,0.375,0.385,0.39,0.395,0.405,0.41,0.415,0.425,0.43,0.435,0.445,0.45]}},
     "color":{"field":"s","type":"nominal","scale":{"domain":["60 pN","50 pN","40 pN","30 pN","27 pN","16 pN"],"range":["#7030A0","#0070C0","#00B0F0","#00B050","#FFC000","#C00000"]},"legend":null}
    }
   },
   {
    "data":{"name":"blab"},
    "mark":{"type":"text","align":"left","baseline":"middle","fontSize":17.5,"font":"Open Sans"},
    "encoding":{
     "x":{"field":"t","type":"quantitative","axis":null},"y":{"field":"e","type":"quantitative","axis":null},
     "text":{"field":"s"},
     "color":{"field":"s","type":"nominal","scale":{"domain":["60 pN","50 pN","40 pN","30 pN","27 pN","16 pN"],"range":["#7030A0","#0070C0","#00B0F0","#00B050","#FFC000","#C00000"]},"legend":null}
    }
   }
  ]
 }
]
}
